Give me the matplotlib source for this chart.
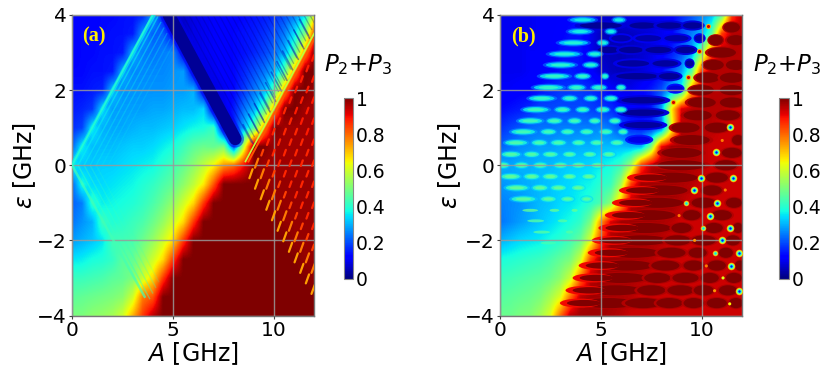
import numpy as np
import matplotlib
matplotlib.use("Agg")
import matplotlib.pyplot as plt
from matplotlib.patches import Ellipse

W, H = 830, 374
A_ticks = [0, 5, 10]
eps_ticks = [-4, -2, 0, 2, 4]
cbar_ticks = [0, 0.2, 0.4, 0.6, 0.8, 1]
cbar_labels = ['0', '0.2', '0.4', '0.6', '0.8', '1']

# rows: eps = 4, 3.5 ... -4 ; columns: A = 0, 0.5 ... 12
P_a = [
 [.12,.12,.12,.13,.13,.14,.14,.16,.30,.14,.06,.07,.09,.10,.11,.11,.12,.13,.14,.15,.17,.20,.25,.35,.65],
 [.12,.13,.13,.13,.14,.14,.15,.28,.22,.22,.12,.06,.09,.10,.11,.12,.13,.14,.15,.17,.20,.25,.35,.50,.85],
 [.12,.13,.13,.14,.14,.15,.30,.25,.24,.25,.26,.12,.08,.10,.11,.12,.13,.14,.16,.19,.23,.30,.45,.75,1.0],
 [.13,.13,.14,.14,.15,.30,.26,.26,.26,.26,.27,.28,.12,.08,.10,.12,.13,.16,.20,.24,.30,.45,.75,1.0,1.0],
 [.14,.14,.15,.16,.32,.27,.27,.27,.27,.27,.28,.28,.30,.12,.08,.10,.13,.18,.24,.30,.45,.75,1.0,1.0,.97],
 [.15,.16,.18,.34,.28,.28,.28,.28,.29,.29,.30,.31,.31,.34,.10,.09,.15,.24,.30,.45,.75,1.0,1.0,.97,.97],
 [.17,.19,.36,.30,.29,.29,.30,.31,.31,.32,.33,.35,.37,.38,.42,.10,.16,.30,.46,.75,1.0,.97,.97,.97,.97],
 [.22,.36,.31,.31,.31,.32,.33,.33,.34,.36,.38,.42,.46,.48,.47,.50,.20,.60,1.0,1.0,.97,.97,.97,.97,.97],
 [.38,.32,.32,.33,.33,.34,.35,.36,.37,.40,.43,.47,.52,.58,.65,.75,.80,.90,1.0,.97,.97,.97,.97,.97,.97],
 [.22,.38,.34,.34,.35,.36,.37,.39,.41,.44,.47,.52,.58,.66,.82,1.0,1.0,1.0,1.0,.98,.98,.98,.98,.98,.98],
 [.22,.25,.40,.36,.37,.38,.39,.41,.44,.48,.53,.60,.68,.85,1.0,1.0,1.0,1.0,1.0,1.0,.98,.98,.98,.98,.98],
 [.24,.27,.30,.42,.39,.40,.42,.44,.48,.53,.60,.68,.85,1.0,1.0,1.0,1.0,1.0,1.0,1.0,1.0,.98,.98,.98,.98],
 [.28,.30,.32,.35,.43,.43,.44,.48,.53,.60,.68,.85,1.0,1.0,1.0,1.0,1.0,1.0,1.0,1.0,1.0,1.0,.98,.98,.98],
 [.35,.36,.38,.39,.41,.46,.47,.53,.60,.68,.85,1.0,1.0,1.0,1.0,1.0,1.0,1.0,1.0,1.0,1.0,1.0,1.0,.98,.98],
 [.42,.42,.43,.44,.46,.47,.50,.60,.68,.85,1.0,1.0,1.0,1.0,1.0,1.0,1.0,1.0,1.0,1.0,1.0,1.0,1.0,1.0,.98],
 [.46,.47,.48,.49,.50,.52,.60,.78,.82,1.0,1.0,1.0,1.0,1.0,1.0,1.0,1.0,1.0,1.0,1.0,1.0,1.0,1.0,1.0,1.0],
 [.50,.50,.52,.53,.55,.60,.72,.85,.95,1.0,1.0,1.0,1.0,1.0,1.0,1.0,1.0,1.0,1.0,1.0,1.0,1.0,1.0,1.0,1.0],
]
P_b = [
 [.10,.10,.10,.10,.11,.11,.11,.12,.14,.12,.08,.08,.10,.10,.10,.10,.10,.12,.16,.20,.25,.30,.45,.85,.95],
 [.10,.10,.10,.10,.11,.11,.12,.14,.14,.10,.06,.05,.05,.06,.07,.08,.10,.12,.20,.25,.30,.45,.85,.95,.95],
 [.10,.10,.10,.11,.11,.11,.14,.14,.14,.10,.06,.05,.05,.06,.07,.09,.12,.15,.20,.28,.50,.85,.95,.95,.95],
 [.10,.10,.10,.11,.11,.12,.14,.15,.14,.12,.08,.06,.05,.06,.08,.10,.12,.20,.28,.45,.85,.95,.95,.95,.95],
 [.11,.11,.12,.12,.14,.16,.18,.18,.18,.17,.15,.12,.10,.10,.12,.15,.20,.30,.38,.75,.92,.95,.95,.95,.95],
 [.13,.14,.15,.17,.20,.20,.20,.20,.20,.19,.18,.17,.14,.12,.12,.14,.28,.65,.92,.95,.95,.95,.95,.93,.93],
 [.17,.19,.21,.23,.24,.24,.25,.25,.25,.25,.26,.24,.20,.16,.15,.16,.22,.60,.95,.95,.95,.95,.93,.93,.93],
 [.22,.24,.26,.27,.28,.28,.29,.29,.30,.30,.31,.31,.31,.30,.30,.50,.90,.97,.97,.97,.95,.93,.93,.93,.93],
 [.30,.29,.30,.30,.31,.31,.32,.33,.33,.34,.36,.38,.42,.55,.85,.95,.97,.97,.97,.96,.95,.93,.93,.93,.93],
 [.27,.28,.29,.30,.31,.32,.33,.34,.36,.37,.40,.42,.55,.85,.97,.97,.97,.97,.96,.95,.93,.93,.93,.93,.93],
 [.25,.26,.27,.29,.31,.32,.34,.35,.37,.40,.44,.52,.72,.95,.97,.97,.97,.97,.95,.93,.93,.93,.93,.93,.93],
 [.24,.26,.28,.30,.32,.34,.36,.38,.41,.50,.75,.92,.97,.97,.97,.97,.96,.95,.93,.93,.93,.93,.93,.93,.93],
 [.30,.32,.34,.35,.36,.38,.40,.43,.48,.62,.85,.97,.97,.97,.97,.96,.95,.93,.93,.93,.93,.93,.93,.93,.93],
 [.38,.39,.40,.41,.42,.44,.47,.50,.60,.85,.97,.97,.97,.97,.96,.95,.93,.93,.93,.93,.93,.93,.93,.93,.93],
 [.42,.43,.44,.45,.46,.48,.52,.60,.80,.95,.97,.97,.97,.96,.95,.93,.93,.93,.93,.93,.93,.93,.93,.93,.93],
 [.45,.46,.47,.48,.50,.55,.62,.80,.95,.97,.97,.97,.96,.95,.93,.93,.93,.93,.93,.93,.93,.93,.93,.93,.93],
 [.48,.48,.50,.51,.55,.62,.80,.95,.97,.97,.97,.96,.95,.93,.93,.93,.93,.93,.93,.93,.93,.93,.93,.93,.93],
]

# panel (a) fine structure
dark_band_A = [4.8, 8.1]
dark_band_eps = [4.0, 0.7]
fringe_up = [.3, .6, .9, 1.2, 1.5, 1.8]
fringe_up_alpha = [.55, .45, .35, .3, .2, .15]
fringe_dn = [.3, .6, .9, 1.2]
fringe_dn_alpha = [.45, .35, .25, .15]
stripe_c = [9.5, 9.8, 10.1, 10.4, 10.7, 11.0, 11.3, 11.6, 11.9, 12.2, 12.5, 12.8, 13.1,
            13.4, 13.7, 14.0, 14.3, 14.6, 14.9, 15.2, 15.5, 15.8]
tooth_c = [9.56, 10.12, 10.68, 11.24, 11.8, 12.36, 12.92, 13.48, 14.04, 14.6, 15.16]
lattice_s = [8.65, 9.21, 9.77, 10.33, 10.89, 11.45, 12.01, 12.57, 13.13, 13.69, 14.25, 14.81, 15.37]
lattice_v = [.74, .78, .84, .87, .87, .87, .87, .88, .88, .88, .88, .88, .88]
lattice_d = [9.1, 9.66, 10.22, 10.78, 11.34, 11.9, 12.46, 13.02, 13.58, 14.14, 14.7, 15.26]

# panel (b): light lenses (eps, [A], [width], peak)
lens_light = [
 (3.87, [4.1, 5.9], [1.4, .7], .38),
 (3.56, [3.97, 5.5], [1.3, .6], .38),
 (3.26, [3.64, 5.1], [1.6, .6], .40),
 (2.96, [3.2, 4.7], [1.7, .8], .40),
 (2.67, [3.0, 4.5], [1.6, .8], .41),
 (2.37, [2.7, 4.1, 5.2], [1.6, .8, .4], .42),
 (2.07, [2.4, 3.8, 4.9, 6.0], [1.6, .9, .8, .5], .42),
 (1.78, [2.07, 3.45, 4.5, 5.5], [1.4, .8, .7, .7], .42),
 (1.48, [1.77, 3.1, 4.1, 5.1, 6.0], [1.4, .8, .7, .7, .6], .43),
 (1.18, [1.5, 2.7, 3.7, 4.7, 5.7], [1.3, .8, .7, .6, .6], .44),
 (.89, [1.15, 2.4, 3.35, 4.3, 5.25, 6.1], [1.3, .8, .7, .7, .7, .5], .44),
 (.60, [.8, 1.95, 2.9, 3.9, 4.8, 5.8], [1.2, .8, .8, .7, .7, .7], .45),
 (.29, [.55, 1.57, 2.5, 3.45, 4.45, 5.4], [1.0, .8, .8, .7, .7, .7], .46),
 (0, [.16, 1.07, 2.0, 3.0, 3.9, 4.85], [.6, .7, .7, .7, .7, .7], .48),
 (-.30, [.53, 1.57, 2.5, 3.45, 4.4], [1.0, .8, .8, .7, .7], .48),
 (-.60, [.83, 1.98, 2.9, 3.88], [1.2, .8, .8, .7], .48),
 (-.90, [1.16, 2.4, 3.35, 4.3], [1.3, .8, .7, .6], .47),
 (-1.20, [1.5, 2.7, 3.7], [1.3, .8, .5], .47),
 (-1.48, [1.77, 3.1], [1.4, .8], .45),
 (-1.78, [2.07, 3.45], [1.4, .6], .45),
 (-2.07, [2.4], [1.3], .43),
]
# panel (b): dark lenses in the blue part
lens_dark = [
 (3.72, [5.0, 7.1, 8.4, 9.55], [2.6, 1.7, 1.6, 1.2], .02),
 (3.38, [6.0, 7.35, 8.75, 9.9], [1.2, 1.6, 1.5, .6], .04),
 (3.07, [5.4, 6.5, 7.85, 9.2], [1.4, 1.5, 1.6, 1.2], .02),
 (2.71, [6.6, 8.2, 9.4], [2.0, 1.6, .5], .03),
 (2.37, [6.8, 8.4], [2.6, 1.3], .02),
 (2.04, [8.7], [.9], .08),
 (1.73, [7.1], [2.7], .02),
 (1.40, [7.1], [2.6], .02),
 (1.07, [7.1], [2.4], .03),
 (.68, [6.9], [1.4], .09),
]

# panel (b): dark-red teeth and lenses
tooth_eps = [-.33, -.67, -1, -1.33, -1.67, -2, -2.33, -2.67, -3, -3.33, -3.67]
tooth_tip = [6.3, 5.9, 5.55, 5.2, 4.88, 4.55, 4.35, 3.9, 3.6, 3.25, 2.97]
lens_red = [
 (-3.67, [5.4, 7.1, 8.4, 9.6, 10.75, 11.7], [2.6, 1.8, 1.3, 1.0, 1.0, .7]),
 (-3.33, [5.7, 7.5, 8.95, 10.1, 11.3], [2.6, 1.4, 1.3, 1.0, .9]),
 (-3.0, [6.0, 7.8, 9.2, 10.4, 11.6], [2.6, 1.3, 1.3, .9, .8]),
 (-2.67, [6.3, 8.2, 9.6, 10.75, 11.9], [2.6, 1.4, 1.0, .9, .5]),
 (-2.33, [6.6, 8.5, 9.8, 11.2], [2.6, 1.4, .9, .7]),
 (-2.0, [7.0, 8.8, 10.1, 11.55], [2.6, 1.3, 1.2, .7]),
 (-1.67, [7.2, 9.0, 10.6, 11.8], [2.6, 1.0, .9, .5]),
 (-1.33, [7.4, 9.5, 11.0], [2.6, .9, 1.0]),
 (-1.0, [7.8, 10.1, 11.6], [2.6, 1.2, .8]),
 (-.67, [8.0, 10.5], [2.6, 1.0]),
 (-.33, [8.5, 10.75], [2.6, 1.1]),
 (0, [9.0, 11.2], [2.4, 1.1]),
 (.33, [9.0, 11.5], [2.0, 1.0]),
 (.67, [9.5, 11.8], [1.8, .6]),
 (1.0, [9.2, 10.75], [1.4, 1.2]),
 (1.33, [9.8, 11.3], [1.4, 1.2]),
 (1.67, [10.0, 11.5], [1.4, 1.2]),
 (2.0, [10.0, 11.5], [1.2, 1.2]),
 (2.33, [10.3, 11.5], [1.2, 1.2]),
 (2.67, [10.6, 11.7], [1.0, 1.0]),
 (3.0, [11.0], [1.4]),
 (3.33, [10.7, 11.7], [.7, .9]),
 (3.67, [11.5], [.8]),
]
red_spot_A = [10.3, 9.87, 9.34, 8.6]
red_spot_eps = [3.72, 3.04, 2.36, 1.69]
big_dot_A = [11.4, 10.7, 9.95, 11.55, 9.62, 10.78, 10.4, 11.39, 11.02, 11.85, 11.47, 11.83]
big_dot_eps = [1.02, .34, -.33, -.33, -.66, -1, -1.34, -1.68, -2, -2.34, -2.68, -3.34]
mid_dot_A = [9.24, 10.05, 10.64]
mid_dot_eps = [-1, -1.68, -2.34]
tiny_dot_A = [11.06, 11.39, 8.88, 9.65, 10.23, 11.02, 11.17, 10.64]
tiny_dot_eps = [-3, -3.69, -1.34, -2, -2.68, .66, -.66, -3.34]
tiny_dot_v = [.62, .65, .78, .75, .78, .78, .78, .75]

jet = plt.get_cmap('jet')
fig = plt.figure(figsize=(W / 100, H / 100), dpi=100)


def new_axes(l, r, t, b):
    return fig.add_axes([l / W, 1 - b / H, (r - l) / W, (b - t) / H])


def base(ax, table, letter, lx):
    im = ax.imshow(np.array(table), extent=[-.25, 12.25, -4.25, 4.25], aspect='auto',
                   cmap=jet, vmin=0, vmax=1, interpolation='bilinear', zorder=0)
    ax.set_xlim(0, 12)
    ax.set_ylim(-4, 4)
    ax.set_xticks(A_ticks)
    ax.set_yticks(eps_ticks)
    ax.tick_params(labelsize=14.5, length=2.5, width=.8, pad=1.5, color='#444444')
    ax.grid(True, color='#9a9a9a', lw=1.0, alpha=.85, zorder=9)
    ax.set_axisbelow(False)
    for s in ax.spines.values():
        s.set_color('#777777')
        s.set_linewidth(1.0)
    fig.text(lx / W, 1 - 36 / H, letter, color='#ffee00', family='Liberation Serif',
             weight='bold', fontsize=14.5, ha='center', va='center', zorder=20)
    return im


def cbar(im, l, r, tx, ty, ylab_x, ax):
    cax = new_axes(l, r, 98, 278.5)
    cb = fig.colorbar(im, cax=cax)
    cb.set_ticks(cbar_ticks)
    cb.set_ticklabels(cbar_labels)
    cax.tick_params(labelsize=13.5, length=0, pad=2.5)
    cb.outline.set_edgecolor('#888888')
    cb.outline.set_linewidth(.8)
    fig.text(tx / W, 1 - ty / H, r'$P_2$+$P_3$', fontsize=16.5, ha='center', va='center')
    fig.text(ylab_x / W, 1 - 165 / H, r'$\varepsilon$ [GHz]', fontsize=17, rotation=90,
             ha='center', va='center')
    fig.text((ax.get_position().x0 + ax.get_position().x1) / 2, 1 - 354 / H, r'$A$ [GHz]',
             fontsize=17, ha='center', va='center')


# ---- panel (a)
ax = new_axes(72, 314, 15, 315.5)
im = base(ax, P_a, '(a)', 94)
ax.plot(dark_band_A, dark_band_eps, color=jet(.10), lw=12.5, alpha=.5, zorder=1.5, solid_capstyle='round')
ax.plot(dark_band_A, dark_band_eps, color=jet(.02), lw=9.0, zorder=1.6, solid_capstyle='round')
for c in stripe_c:
    ax.plot([(c + 8.3) / 2, c - 4], [(c - 8.3) / 2, 4], color=jet(.02), lw=.9, alpha=.3, zorder=2,
            solid_capstyle='butt')
for c in tooth_c:
    ax.plot([(c + 8.4) / 2, (c + 7.4) / 2], [(c - 8.4) / 2, (c - 7.4) / 2], color=jet(.05), lw=1.2,
            alpha=.45, zorder=2, solid_capstyle='round')
ax.plot([8.6, 12.6], [0.1, 4.1], color=jet(.58), lw=1.2, zorder=3)
ax.plot([8.75, 12.75], [0.1, 4.1], color=jet(.82), lw=1.4, zorder=3)
ax.plot([0, 4.05], [0, 4], color=jet(.36), lw=3.0, alpha=.65, zorder=3)
ax.plot([0, 4.0], [0, 4], color=jet(.40), lw=1.3, alpha=.8, zorder=3)
ax.plot([0, 3.6], [0, -3.5], color=jet(.43), lw=1.8, alpha=.7, zorder=3)
for d, al in zip(fringe_up, fringe_up_alpha):
    ax.plot([d, 4.1 + d / 2], [0, 4.1 - d / 2], color=jet(.36), lw=1.0, alpha=al, zorder=2)
for d, al in zip(fringe_dn, fringe_dn_alpha):
    ax.plot([d, 3.7 + d / 2], [0, -3.7 + d / 2], color=jet(.42), lw=1.0, alpha=al, zorder=2)
for s, v in zip(lattice_s, lattice_v):
    half = .08 if v < .8 else .05
    for d in lattice_d:
        x, y = (s + d) / 2, (s - d) / 2
        ax.plot([x - half, x + half], [y - half * 1.5, y + half * 1.5], color=jet(v), lw=1.6, zorder=3,
                solid_capstyle='round')
cbar(im, 343.5, 352.5, 358, 65, 25, ax)

# ---- panel (b)
ax = new_axes(500, 742, 15, 315.5)
im = base(ax, P_b, '(b)', 523)
for e, xs, ws in lens_red:
    for x, w in zip(xs, ws):
        ax.add_patch(Ellipse((x, e), w * 1.2, .32, fc=jet(.955), ec='none', zorder=1))
        ax.add_patch(Ellipse((x, e), w * 1.0, .27, fc=jet(1.0), ec='none', zorder=1))
for e, tip in zip(tooth_eps, tooth_tip):
    ax.add_patch(Ellipse((tip + 1.0, e), 2.0, .24, fc=jet(.9), ec='none', zorder=1))
    ax.add_patch(Ellipse((tip + 1.2, e), 1.7, .17, fc=jet(1.0), ec='none', zorder=1))
for e, xs, ws, v in lens_dark:
    for x, w in zip(xs, ws):
        ax.add_patch(Ellipse((x, e), w, .27, fc=jet(v + .06), ec='none', zorder=1.5))
        ax.add_patch(Ellipse((x, e), w * .8, .17, fc=jet(v), ec='none', zorder=1.5))
for e, xs, ws, v in lens_light:
    for x, w in zip(xs, ws):
        if e > -1:
            ax.add_patch(Ellipse((x, e), w * 1.1, .2, fc=jet(v - .14), ec='none', alpha=.5, zorder=2))
            ax.add_patch(Ellipse((x, e), w * .9, .14, fc=jet(v - .06), ec='none', alpha=.8, zorder=2))
        ax.add_patch(Ellipse((x, e), w * .6, .08, fc=jet(v), ec='none', alpha=.8, zorder=2))
ax.scatter(red_spot_A, red_spot_eps, s=14, color=jet(.72), lw=0, zorder=3)
ax.scatter(red_spot_A, red_spot_eps, s=5, color=jet(.93), lw=0, zorder=3)
for xs, ys, layers in ((big_dot_A, big_dot_eps, ((30, .75), (20, .6), (11, .38), (3, .14))),
                       (mid_dot_A, mid_dot_eps, ((16, .75), (9, .55), (3, .35)))):
    for s, v in layers:
        ax.scatter(xs, ys, s=s, color=jet(v), lw=0, zorder=3)
ax.scatter(tiny_dot_A, tiny_dot_eps, s=5, c=tiny_dot_v, cmap=jet, vmin=0, vmax=1, lw=0, zorder=3)
cbar(im, 779, 788.5, 787, 65, 450, ax)

fig.savefig('out.png', dpi=100)
